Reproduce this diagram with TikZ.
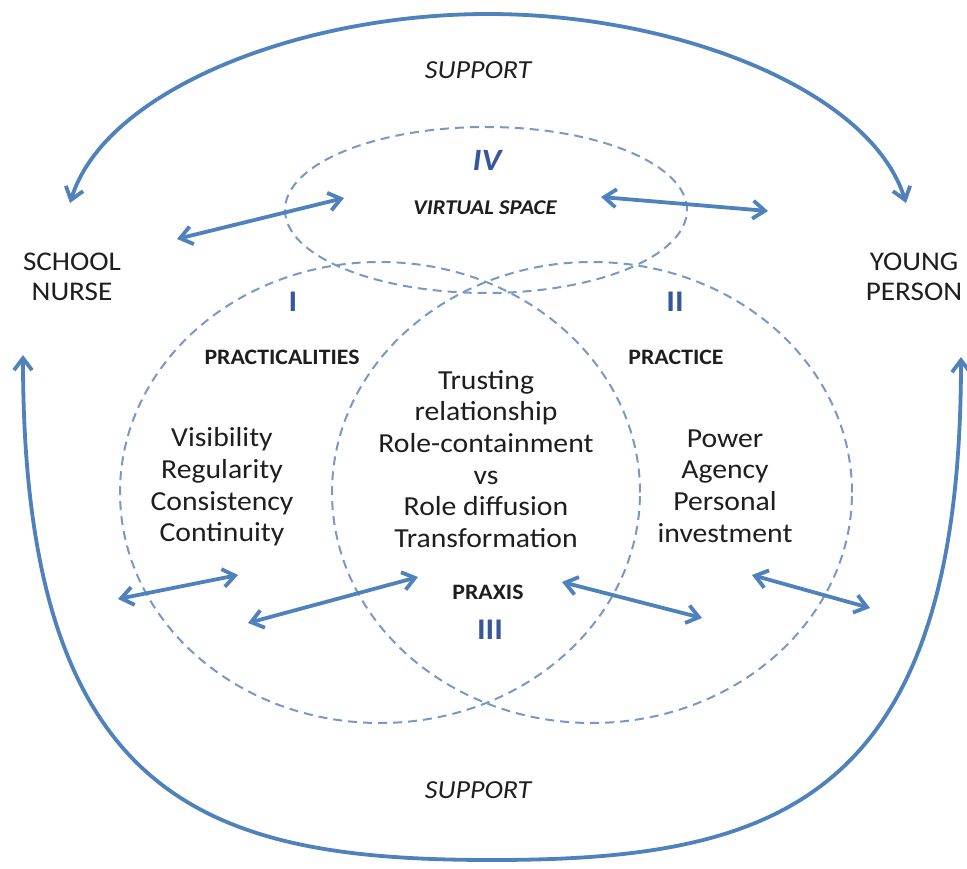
\documentclass[tikz,border=0pt]{standalone}
\usepackage{fontspec}
\setmainfont{Carlito}[FakeStretch=1.08]
\usetikzlibrary{arrows.meta,shapes.geometric}
\definecolor{arcblue}{RGB}{79,129,189}
\definecolor{dashblue}{RGB}{120,153,200}
\definecolor{numblue}{RGB}{55,88,152}
\definecolor{txt}{RGB}{30,30,30}
\tikzset{
  barbs/.style={{Straight Barb[length=12pt,width=18pt]}-{Straight Barb[length=12pt,width=18pt]}},
  supportarc/.style={draw=arcblue, line width=3.8pt, barbs},
  link/.style={draw=arcblue, line width=3.8pt, barbs},
  zone/.style={ellipse, draw=dashblue, line width=2pt, dash pattern=on 9pt off 6pt, inner sep=0pt},
  body/.style={font=\fontsize{27.5}{31.7}\selectfont, text=txt, align=center, inner sep=0pt},
  actor/.style={font=\fontsize{27}{30.5}\selectfont, text=txt, align=center, inner sep=0pt},
  heading/.style={font=\fontsize{22}{26}\selectfont\bfseries, text=txt, inner sep=0pt},
  support/.style={font=\fontsize{26}{30}\selectfont\itshape, text=txt, inner sep=0pt},
  numeral/.style={font=\fontsize{30}{34}\selectfont\bfseries, text=numblue, inner sep=0pt}
}
\begin{document}
\begin{tikzpicture}[x=1pt,y=-1pt]
\fill[white] (0,0) rectangle (967,869);
\useasboundingbox (0,0) rectangle (967,869);

% dashed zones
\node[zone, minimum width=402pt, minimum height=166pt] (zIV) at (486,210) {};
\node[zone, minimum width=520pt, minimum height=461pt] (zI) at (380,492.5) {};
\node[zone, minimum width=520pt, minimum height=461pt] (zII) at (592,492.5) {};

% support arcs
\coordinate (tl) at (70,203);
\coordinate (ttop) at (488,14);
\coordinate (tr) at (906,203);
\draw[supportarc] (tl) .. controls (105,90) and (300,14) .. (ttop) .. controls (676,14) and (871,90) .. (tr);
\coordinate (bl) at (23,355);
\coordinate (bbot) at (492,860);
\coordinate (br) at (961,357);
\draw[supportarc] (bl) .. controls (23,805) and (211,860) .. (bbot) .. controls (773,860) and (961,805) .. (br);

% labels
\node[support] (suptop) at (478,70) {SUPPORT};
\node[support] (supbot) at (478,790) {SUPPORT};
\node[actor] (nurse) at (72,277) {SCHOOL\\NURSE};
\node[actor] (young) at (914,277) {YOUNG\\PERSON};
\node[numeral, font=\fontsize{31}{34}\selectfont\bfseries\itshape] (nIV) at (487,160) {IV};
\node[heading, font=\fontsize{21}{25}\selectfont\bfseries\itshape] (virtual) at (485,208) {VIRTUAL SPACE};
\node[numeral] (nI) at (293,302) {I};
\node[numeral] (nII) at (675,302) {II};
\node[numeral] (nIII) at (490,630) {III};
\node[heading] (practicalities) at (282,357) {PRACTICALITIES};
\node[heading] (practice) at (676,357) {PRACTICE};
\node[heading] (praxis) at (488,592) {PRAXIS};
\node[body] (left) at (222,487) {Visibility\\Regularity\\Consistency\\Continuity};
\node[body] (centre) at (486,459) {Trusting\\relationship\\Role-containment\\vs\\Role diffusion\\Transformation};
\node[body] (right) at (725,486) {Power\\Agency\\Personal\\investment};

% double arrows
\coordinate (a1s) at (177,239);
\coordinate (a1e) at (344,198);
\coordinate (a2s) at (601,197);
\coordinate (a2e) at (768,211);
\coordinate (b1s) at (118,599);
\coordinate (b1e) at (238,575);
\coordinate (b2s) at (248,623);
\coordinate (b2e) at (418,577);
\coordinate (b3s) at (562,582);
\coordinate (b3e) at (702,618);
\coordinate (b4s) at (752,575);
\coordinate (b4e) at (870,608);
\draw[link] (a1s) -- (a1e);
\draw[link] (a2s) -- (a2e);
\draw[link] (b1s) -- (b1e);
\draw[link] (b2s) -- (b2e);
\draw[link] (b3s) -- (b3e);
\draw[link] (b4s) -- (b4e);
\end{tikzpicture}
\end{document}
